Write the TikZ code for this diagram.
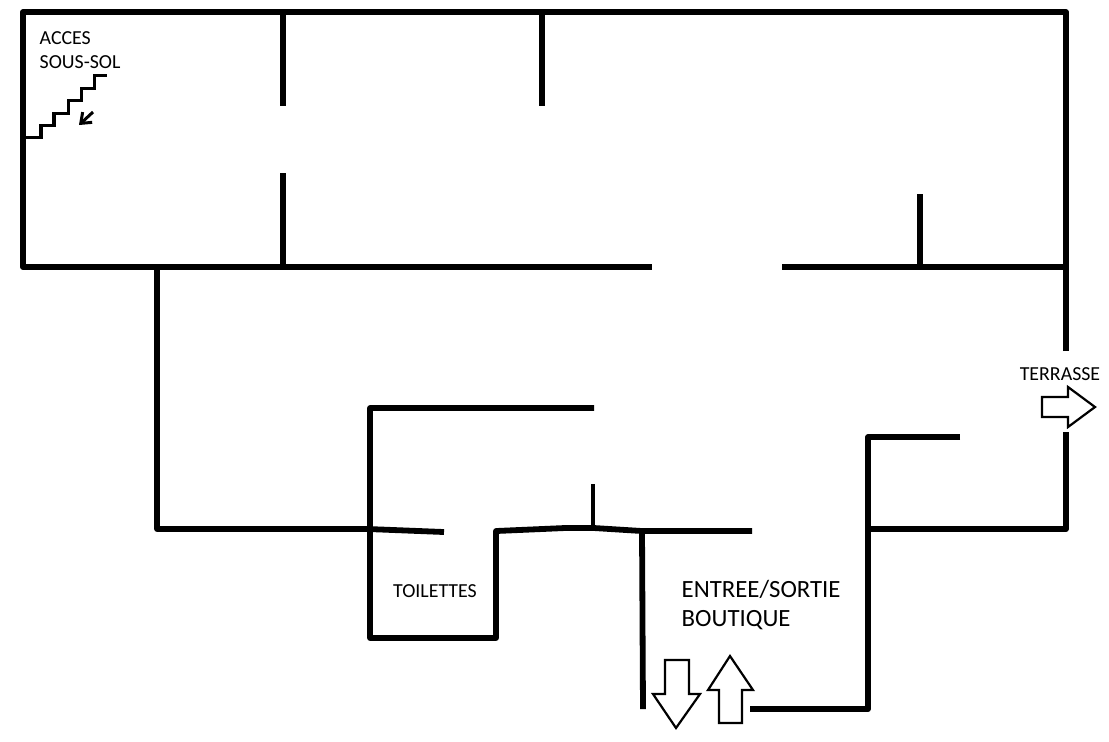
\documentclass[tikz,border=0pt]{standalone}
\usepackage{fontspec}
\setmainfont{Carlito}
\usetikzlibrary{arrows.meta}

\tikzset{
  wall/.style={line width=0.058cm, line join=round},
  thinwall/.style={line width=0.04cm},
  stairs/.style={line width=0.03cm},
  doorarrow/.style={draw, line width=0.022cm, fill=white},
  smalllabel/.style={font=\fontsize{5.65pt}{6pt}\selectfont, inner sep=0pt},
  biglabel/.style={font=\fontsize{7.05pt}{8pt}\selectfont, inner sep=0pt},
}

\begin{document}
\begin{tikzpicture}[x=0.01cm, y=-0.01cm]
\useasboundingbox (0,0) rectangle (1109,741);

% Outer walls, upper floor
\draw[wall] (1066,351) -- (1066,12) -- (23,12) -- (23,267) -- (652,267);
\draw[wall] (782,267) -- (1066,267);

% Partitions
\draw[wall] (283,12) -- (283,106);
\draw[wall] (283,173) -- (283,267);
\draw[wall] (542,12) -- (542,106);
\draw[wall] (920,194) -- (920,267);

% Lower part, left side
\draw[wall] (157,267) -- (157,529) -- (368,529) -- (444,532);

% Toilets
\draw[wall] (594,408) -- (370,408) -- (370,638) -- (496,638) -- (496,531) -- (565,528) -- (594,528) -- (642,531) -- (752,531);
\draw[thinwall] (593,484) -- (593,528);

% Shop entrance
\draw[wall] (642,531) -- (643,709);
\draw[wall] (1066,432) -- (1066,529) -- (868,529);
\draw[wall] (960,437) -- (868,437) -- (868,709) -- (750,709);

% Stairs
\draw[stairs] (26,137) -| (41,125) -| (54,113) -| (68,100) -| (81,88) -| (94,75) -- (107,75);
\draw[stairs, -{Straight Barb[length=0.09cm, width=0.14cm]}] (93,112) -- (79,125);

% Door arrows
\draw[doorarrow] (665,660) -- (689,660) -- (689,694) -- (700,694) -- (676,728) -- (653,694) -- (665,694) -- cycle;
\draw[doorarrow] (730,656) -- (753,690) -- (742,690) -- (742,723) -- (719,723) -- (719,690) -- (708,690) -- cycle;
\draw[doorarrow] (1042,397) -- (1068,397) -- (1068,387) -- (1095,407) -- (1068,427) -- (1068,417) -- (1042,417) -- cycle;

% Labels
\node[smalllabel, anchor=west] (acces) at (39,38) {ACCES};
\node[smalllabel, anchor=west] (soussol) at (39,62) {SOUS-SOL};
\node[smalllabel] (terrasse) at (1060,374) {TERRASSE};
\node[smalllabel] (toilettes) at (435,591) {TOILETTES};
\node[biglabel, anchor=west] (entree) at (681,589) {ENTREE/SORTIE};
\node[biglabel, anchor=west] (boutique) at (681,620) {BOUTIQUE};
\end{tikzpicture}
\end{document}
